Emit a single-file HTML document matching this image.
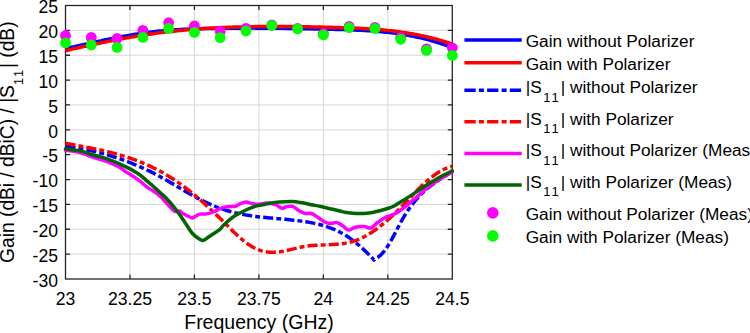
<!DOCTYPE html>
<html><head><meta charset="utf-8"><style>
html,body{margin:0;padding:0;background:#fff;}
body{width:750px;height:333px;overflow:hidden;font-family:"Liberation Sans",sans-serif;}
svg{display:block;}
</style></head><body>
<svg width="750" height="333" viewBox="0 0 750 333">
<rect width="750" height="333" fill="#fff"/>
<path d="M129.97,5.50 V279.00 M194.43,5.50 V279.00 M258.90,5.50 V279.00 M323.37,5.50 V279.00 M387.83,5.50 V279.00 M65.50,254.14 H452.30 M65.50,229.27 H452.30 M65.50,204.41 H452.30 M65.50,179.55 H452.30 M65.50,154.68 H452.30 M65.50,129.82 H452.30 M65.50,104.95 H452.30 M65.50,80.09 H452.30 M65.50,55.23 H452.30 M65.50,30.36 H452.30" stroke="#d6d6d6" stroke-width="1" fill="none"/>
<rect x="65.50" y="5.50" width="386.80" height="273.50" fill="none" stroke="#262626" stroke-width="1.3"/>
<path d="M129.97,279.00 v-4.50 M129.97,5.50 v4.50 M194.43,279.00 v-4.50 M194.43,5.50 v4.50 M258.90,279.00 v-4.50 M258.90,5.50 v4.50 M323.37,279.00 v-4.50 M323.37,5.50 v4.50 M387.83,279.00 v-4.50 M387.83,5.50 v4.50 M65.50,254.14 h4.50 M452.30,254.14 h-4.50 M65.50,229.27 h4.50 M452.30,229.27 h-4.50 M65.50,204.41 h4.50 M452.30,204.41 h-4.50 M65.50,179.55 h4.50 M452.30,179.55 h-4.50 M65.50,154.68 h4.50 M452.30,154.68 h-4.50 M65.50,129.82 h4.50 M452.30,129.82 h-4.50 M65.50,104.95 h4.50 M452.30,104.95 h-4.50 M65.50,80.09 h4.50 M452.30,80.09 h-4.50 M65.50,55.23 h4.50 M452.30,55.23 h-4.50 M65.50,30.36 h4.50 M452.30,30.36 h-4.50" stroke="#262626" stroke-width="1.3" fill="none"/>
<defs><clipPath id="c"><rect x="65.00" y="5.00" width="387.80" height="274.50"/></clipPath></defs>
<g fill="none" stroke-width="3.50" stroke-linejoin="round">
<path d="M65.50,48.70 L67.50,48.24 L69.50,47.79 L71.50,47.33 L73.50,46.88 L75.50,46.42 L77.50,45.97 L79.50,45.51 L81.50,45.06 L83.50,44.61 L85.50,44.16 L87.50,43.72 L89.50,43.27 L91.50,42.83 L93.50,42.39 L95.50,41.96 L97.50,41.52 L99.50,41.09 L101.50,40.67 L103.50,40.25 L105.50,39.83 L107.50,39.42 L109.50,39.01 L111.50,38.61 L113.50,38.21 L115.50,37.82 L117.50,37.43 L119.50,37.05 L121.50,36.68 L123.50,36.31 L125.50,35.95 L127.50,35.60 L129.50,35.25 L131.50,34.91 L133.50,34.58 L135.50,34.26 L137.50,33.94 L139.50,33.64 L141.50,33.34 L143.50,33.05 L145.50,32.78 L147.50,32.51 L149.50,32.25 L151.50,32.00 L153.50,31.76 L155.50,31.53 L157.50,31.31 L159.50,31.11 L161.50,30.91 L163.50,30.72 L165.50,30.54 L167.50,30.37 L169.50,30.21 L171.50,30.06 L173.50,29.92 L175.50,29.79 L177.50,29.66 L179.50,29.54 L181.50,29.43 L183.50,29.32 L185.50,29.23 L187.50,29.13 L189.50,29.05 L191.50,28.97 L193.50,28.89 L195.50,28.83 L197.50,28.76 L199.50,28.70 L201.50,28.65 L203.50,28.60 L205.50,28.55 L207.50,28.50 L209.50,28.46 L211.50,28.43 L213.50,28.39 L215.50,28.36 L217.50,28.33 L219.50,28.30 L221.50,28.27 L223.50,28.25 L225.50,28.23 L227.50,28.21 L229.50,28.19 L231.50,28.17 L233.50,28.16 L235.50,28.15 L237.50,28.14 L239.50,28.13 L241.50,28.12 L243.50,28.12 L245.50,28.11 L247.50,28.11 L249.50,28.11 L251.50,28.12 L253.50,28.12 L255.50,28.13 L257.50,28.13 L259.50,28.14 L261.50,28.15 L263.50,28.16 L265.50,28.18 L267.50,28.19 L269.50,28.21 L271.50,28.23 L273.50,28.24 L275.50,28.26 L277.50,28.29 L279.50,28.31 L281.50,28.33 L283.50,28.36 L285.50,28.39 L287.50,28.41 L289.50,28.44 L291.50,28.47 L293.50,28.51 L295.50,28.54 L297.50,28.57 L299.50,28.61 L301.50,28.64 L303.50,28.68 L305.50,28.72 L307.50,28.76 L309.50,28.80 L311.50,28.84 L313.50,28.88 L315.50,28.92 L317.50,28.96 L319.50,29.01 L321.50,29.05 L323.50,29.10 L325.50,29.14 L327.50,29.19 L329.50,29.24 L331.50,29.28 L333.50,29.33 L335.50,29.38 L337.50,29.43 L339.50,29.49 L341.50,29.54 L343.50,29.60 L345.50,29.67 L347.50,29.73 L349.50,29.80 L351.50,29.87 L353.50,29.95 L355.50,30.04 L357.50,30.13 L359.50,30.22 L361.50,30.32 L363.50,30.43 L365.50,30.54 L367.50,30.67 L369.50,30.80 L371.50,30.93 L373.50,31.08 L375.50,31.23 L377.50,31.40 L379.50,31.57 L381.50,31.76 L383.50,31.95 L385.50,32.15 L387.50,32.37 L389.50,32.60 L391.50,32.84 L393.50,33.09 L395.50,33.35 L397.50,33.63 L399.50,33.92 L401.50,34.22 L403.50,34.54 L405.50,34.88 L407.50,35.22 L409.50,35.59 L411.50,35.97 L413.50,36.36 L415.50,36.77 L417.50,37.20 L419.50,37.64 L421.50,38.11 L423.50,38.59 L425.50,39.09 L427.50,39.60 L429.50,40.14 L431.50,40.70 L433.50,41.27 L435.50,41.87 L437.50,42.48 L439.50,43.12 L441.50,43.78 L443.50,44.46 L445.50,45.16 L447.50,45.89 L449.50,46.64 L451.50,47.41 L452.30,47.72" stroke="#0000ff"/>
<path d="M65.50,50.77 L67.50,50.30 L69.50,49.83 L71.50,49.37 L73.50,48.90 L75.50,48.44 L77.50,47.99 L79.50,47.53 L81.50,47.08 L83.50,46.64 L85.50,46.19 L87.50,45.75 L89.50,45.31 L91.50,44.88 L93.50,44.45 L95.50,44.02 L97.50,43.60 L99.50,43.18 L101.50,42.76 L103.50,42.35 L105.50,41.95 L107.50,41.54 L109.50,41.14 L111.50,40.75 L113.50,40.36 L115.50,39.98 L117.50,39.60 L119.50,39.22 L121.50,38.85 L123.50,38.48 L125.50,38.12 L127.50,37.77 L129.50,37.42 L131.50,37.07 L133.50,36.74 L135.50,36.40 L137.50,36.07 L139.50,35.75 L141.50,35.43 L143.50,35.12 L145.50,34.82 L147.50,34.52 L149.50,34.23 L151.50,33.94 L153.50,33.66 L155.50,33.39 L157.50,33.12 L159.50,32.86 L161.50,32.60 L163.50,32.36 L165.50,32.11 L167.50,31.88 L169.50,31.65 L171.50,31.43 L173.50,31.21 L175.50,31.00 L177.50,30.79 L179.50,30.59 L181.50,30.40 L183.50,30.21 L185.50,30.02 L187.50,29.85 L189.50,29.67 L191.50,29.51 L193.50,29.34 L195.50,29.19 L197.50,29.04 L199.50,28.89 L201.50,28.75 L203.50,28.61 L205.50,28.48 L207.50,28.35 L209.50,28.23 L211.50,28.12 L213.50,28.00 L215.50,27.90 L217.50,27.79 L219.50,27.69 L221.50,27.60 L223.50,27.51 L225.50,27.42 L227.50,27.34 L229.50,27.27 L231.50,27.19 L233.50,27.12 L235.50,27.06 L237.50,27.00 L239.50,26.94 L241.50,26.88 L243.50,26.83 L245.50,26.79 L247.50,26.75 L249.50,26.71 L251.50,26.67 L253.50,26.64 L255.50,26.61 L257.50,26.58 L259.50,26.56 L261.50,26.54 L263.50,26.52 L265.50,26.51 L267.50,26.50 L269.50,26.49 L271.50,26.49 L273.50,26.49 L275.50,26.49 L277.50,26.49 L279.50,26.50 L281.50,26.50 L283.50,26.52 L285.50,26.53 L287.50,26.54 L289.50,26.56 L291.50,26.58 L293.50,26.60 L295.50,26.63 L297.50,26.66 L299.50,26.68 L301.50,26.71 L303.50,26.75 L305.50,26.78 L307.50,26.82 L309.50,26.85 L311.50,26.89 L313.50,26.93 L315.50,26.97 L317.50,27.02 L319.50,27.06 L321.50,27.11 L323.50,27.15 L325.50,27.20 L327.50,27.25 L329.50,27.30 L331.50,27.35 L333.50,27.40 L335.50,27.46 L337.50,27.51 L339.50,27.57 L341.50,27.63 L343.50,27.69 L345.50,27.76 L347.50,27.83 L349.50,27.90 L351.50,27.98 L353.50,28.06 L355.50,28.15 L357.50,28.24 L359.50,28.33 L361.50,28.43 L363.50,28.54 L365.50,28.66 L367.50,28.78 L369.50,28.90 L371.50,29.04 L373.50,29.18 L375.50,29.33 L377.50,29.49 L379.50,29.65 L381.50,29.83 L383.50,30.01 L385.50,30.20 L387.50,30.41 L389.50,30.62 L391.50,30.84 L393.50,31.07 L395.50,31.32 L397.50,31.57 L399.50,31.84 L401.50,32.12 L403.50,32.41 L405.50,32.72 L407.50,33.03 L409.50,33.36 L411.50,33.70 L413.50,34.06 L415.50,34.43 L417.50,34.82 L419.50,35.22 L421.50,35.63 L423.50,36.06 L425.50,36.51 L427.50,36.97 L429.50,37.45 L431.50,37.94 L433.50,38.45 L435.50,38.98 L437.50,39.53 L439.50,40.09 L441.50,40.67 L443.50,41.27 L445.50,41.89 L447.50,42.53 L449.50,43.19 L451.50,43.86 L452.30,44.14" stroke="#ff0000"/>
<path d="M65.50,146.21 L67.50,146.48 L69.50,146.76 L71.50,147.05 L73.50,147.36 L75.50,147.68 L77.50,148.02 L79.50,148.37 L81.50,148.74 L83.50,149.12 L85.50,149.52 L87.50,149.93 L89.50,150.36 L91.50,150.80 L93.50,151.26 L95.50,151.73 L97.50,152.23 L99.50,152.73 L101.50,153.26 L103.50,153.80 L105.50,154.36 L107.50,154.93 L109.50,155.52 L111.50,156.13 L113.50,156.76 L115.50,157.40 L117.50,158.06 L119.50,158.74 L121.50,159.44 L123.50,160.15 L125.50,160.89 L127.50,161.64 L129.50,162.41 L131.50,163.20 L133.50,164.01 L135.50,164.84 L137.50,165.69 L139.50,166.55 L141.50,167.44 L143.50,168.35 L145.50,169.27 L147.50,170.22 L149.50,171.18 L151.50,172.17 L153.50,173.18 L155.50,174.21 L157.50,175.25 L159.50,176.32 L161.50,177.42 L163.50,178.53 L165.50,179.66 L167.50,180.80 L169.50,181.96 L171.50,183.13 L173.50,184.31 L175.50,185.50 L177.50,186.68 L179.50,187.87 L181.50,189.05 L183.50,190.23 L185.50,191.40 L187.50,192.56 L189.50,193.70 L191.50,194.83 L193.50,195.94 L195.50,197.03 L197.50,198.10 L199.50,199.14 L201.50,200.15 L203.50,201.14 L205.50,202.11 L207.50,203.04 L209.50,203.95 L211.50,204.83 L213.50,205.68 L215.50,206.50 L217.50,207.28 L219.50,208.04 L221.50,208.76 L223.50,209.44 L225.50,210.10 L227.50,210.71 L229.50,211.30 L231.50,211.85 L233.50,212.36 L235.50,212.85 L237.50,213.31 L239.50,213.75 L241.50,214.16 L243.50,214.54 L245.50,214.90 L247.50,215.24 L249.50,215.56 L251.50,215.86 L253.50,216.14 L255.50,216.40 L257.50,216.65 L259.50,216.89 L261.50,217.12 L263.50,217.33 L265.50,217.54 L267.50,217.73 L269.50,217.92 L271.50,218.11 L273.50,218.29 L275.50,218.46 L277.50,218.64 L279.50,218.82 L281.50,218.99 L283.50,219.17 L285.50,219.36 L287.50,219.55 L289.50,219.74 L291.50,219.95 L293.50,220.16 L295.50,220.38 L297.50,220.62 L299.50,220.87 L301.50,221.14 L303.50,221.42 L305.50,221.72 L307.50,222.04 L309.50,222.38 L311.50,222.74 L313.50,223.13 L315.50,223.55 L317.50,224.01 L319.50,224.50 L321.50,225.02 L323.50,225.59 L325.50,226.20 L327.50,226.86 L329.50,227.57 L331.50,228.33 L333.50,229.14 L335.50,230.01 L337.50,230.94 L339.50,231.93 L341.50,232.98 L343.50,234.11 L345.50,235.30 L347.50,236.57 L349.50,237.91 L351.50,239.33 L353.50,240.82 L355.50,242.39 L357.50,244.03 L359.50,245.73 L361.50,247.51 L363.50,249.34 L365.50,251.24 L367.50,253.20 L369.50,255.22 L371.50,257.29 L373.50,259.42 L374.00,259.96 L376.00,258.25 L378.00,257.20 L380.00,255.69 L382.00,253.74 L384.00,251.39 L386.00,248.69 L388.00,245.68 L390.00,242.40 L392.00,238.88 L394.00,235.17 L396.00,231.36 L398.00,227.52 L400.00,223.73 L402.00,220.09 L404.00,216.65 L406.00,213.40 L408.00,210.33 L410.00,207.45 L412.00,204.73 L414.00,202.17 L416.00,199.76 L418.00,197.49 L420.00,195.36 L422.00,193.34 L424.00,191.44 L426.00,189.65 L428.00,187.95 L430.00,186.33 L432.00,184.80 L434.00,183.33 L436.00,181.92 L438.00,180.56 L440.00,179.24 L442.00,177.95 L444.00,176.68 L446.00,175.43 L448.00,174.18 L450.00,172.93 L452.00,171.66 L452.30,171.47" stroke="#0000ff" stroke-dasharray="10.1 3.1 4.9 3.1"/>
<path d="M65.50,143.37 L67.50,143.73 L69.50,144.09 L71.50,144.45 L73.50,144.81 L75.50,145.17 L77.50,145.53 L79.50,145.90 L81.50,146.27 L83.50,146.65 L85.50,147.03 L87.50,147.41 L89.50,147.80 L91.50,148.20 L93.50,148.61 L95.50,149.02 L97.50,149.44 L99.50,149.88 L101.50,150.32 L103.50,150.78 L105.50,151.24 L107.50,151.72 L109.50,152.22 L111.50,152.72 L113.50,153.24 L115.50,153.78 L117.50,154.33 L119.50,154.90 L121.50,155.49 L123.50,156.10 L125.50,156.72 L127.50,157.37 L129.50,158.03 L131.50,158.72 L133.50,159.42 L135.50,160.15 L137.50,160.91 L139.50,161.68 L141.50,162.49 L143.50,163.31 L145.50,164.17 L147.50,165.05 L149.50,165.95 L151.50,166.89 L153.50,167.85 L155.50,168.84 L157.50,169.87 L159.50,170.92 L161.50,172.01 L163.50,173.13 L165.50,174.28 L167.50,175.46 L169.50,176.68 L171.50,177.94 L173.50,179.23 L175.50,180.55 L177.50,181.92 L179.50,183.32 L181.50,184.76 L183.50,186.24 L185.50,187.75 L187.50,189.30 L189.50,190.88 L191.50,192.50 L193.50,194.14 L195.50,195.82 L197.50,197.52 L199.50,199.25 L201.50,201.01 L203.50,202.79 L205.50,204.60 L207.50,206.43 L209.50,208.28 L211.50,210.16 L213.50,212.05 L215.50,213.96 L217.50,215.88 L219.50,217.82 L221.50,219.78 L223.50,221.75 L225.50,223.73 L227.50,225.72 L229.50,227.71 L231.50,229.68 L233.50,231.63 L235.50,233.55 L237.50,235.42 L239.50,237.23 L241.50,238.98 L243.50,240.65 L245.50,242.24 L247.50,243.73 L249.50,245.10 L251.50,246.36 L253.50,247.50 L255.50,248.51 L257.50,249.41 L259.50,250.18 L261.50,250.84 L263.50,251.37 L265.50,251.79 L267.50,252.09 L269.50,252.28 L271.50,252.36 L273.50,252.35 L275.50,252.25 L277.50,252.08 L279.50,251.83 L281.50,251.52 L283.50,251.16 L285.50,250.76 L287.50,250.32 L289.50,249.86 L291.50,249.38 L293.50,248.90 L295.50,248.41 L297.50,247.94 L299.50,247.48 L301.50,247.05 L303.50,246.66 L305.50,246.32 L307.50,246.02 L309.50,245.77 L311.50,245.57 L313.50,245.40 L315.50,245.26 L317.50,245.14 L319.50,245.05 L321.50,244.97 L323.50,244.89 L325.50,244.82 L327.50,244.75 L329.50,244.68 L331.50,244.59 L333.50,244.48 L335.50,244.35 L337.50,244.19 L339.50,243.99 L341.50,243.76 L343.50,243.48 L345.50,243.15 L347.50,242.76 L349.50,242.31 L351.50,241.80 L353.50,241.22 L355.50,240.55 L357.50,239.81 L359.50,238.98 L361.50,238.08 L363.50,237.11 L365.50,236.06 L367.50,234.94 L369.50,233.74 L371.50,232.48 L373.50,231.16 L375.50,229.77 L377.50,228.31 L379.50,226.80 L381.50,225.23 L383.50,223.60 L385.50,221.91 L387.50,220.17 L389.50,218.38 L391.50,216.54 L393.50,214.65 L395.50,212.72 L397.50,210.74 L399.50,208.72 L401.50,206.67 L403.50,204.60 L405.50,202.51 L407.50,200.41 L409.50,198.31 L411.50,196.21 L413.50,194.13 L415.50,192.07 L417.50,190.04 L419.50,188.05 L421.50,186.10 L423.50,184.20 L425.50,182.37 L427.50,180.60 L429.50,178.90 L431.50,177.28 L433.50,175.75 L435.50,174.30 L437.50,172.95 L439.50,171.70 L441.50,170.55 L443.50,169.52 L445.50,168.59 L447.50,167.79 L449.50,167.11 L451.50,166.56 L452.30,166.38" stroke="#ff0000" stroke-dasharray="10.1 3.1 4.9 3.1"/>
<path d="M65.50,150.20 C67.92,150.60 75.08,151.32 80.00,152.60 C84.92,153.88 90.50,156.42 95.00,157.90 C99.50,159.38 103.00,160.00 107.00,161.50 C111.00,163.00 116.00,165.28 119.00,166.90 C122.00,168.52 123.09,169.93 125.00,171.20 C126.91,172.47 128.45,173.22 130.45,174.50 C132.45,175.78 135.41,177.82 137.00,178.90 C138.59,179.98 138.33,179.62 140.00,181.00 C141.67,182.38 144.83,185.57 147.00,187.20 C149.17,188.83 151.00,189.45 153.00,190.80 C155.00,192.15 157.00,193.55 159.00,195.30 C161.00,197.05 163.17,199.38 165.00,201.30 C166.83,203.22 168.38,205.13 170.00,206.80 C171.62,208.47 173.15,210.60 174.70,211.30 C176.25,212.00 177.75,210.53 179.30,211.00 C180.85,211.47 182.43,213.18 184.00,214.10 C185.57,215.02 187.30,215.87 188.70,216.50 C190.10,217.13 191.17,217.98 192.40,217.90 C193.63,217.82 194.85,216.63 196.10,216.00 C197.35,215.37 198.33,214.42 199.90,214.10 C201.47,213.78 203.80,214.25 205.50,214.10 C207.20,213.95 208.55,213.67 210.10,213.20 C211.65,212.73 213.23,212.00 214.80,211.30 C216.37,210.60 217.93,209.70 219.50,209.00 C221.07,208.30 222.48,207.48 224.20,207.10 C225.92,206.72 227.93,206.85 229.80,206.70 C231.67,206.55 233.70,206.67 235.40,206.20 C237.10,205.73 238.23,204.60 240.00,203.90 C241.77,203.20 243.95,202.03 246.00,202.00 C248.05,201.97 250.20,203.32 252.30,203.70 C254.40,204.08 256.15,204.42 258.60,204.30 C261.05,204.18 264.18,202.93 267.00,203.00 C269.82,203.07 273.03,203.82 275.50,204.70 C277.97,205.58 280.00,207.95 281.80,208.30 C283.60,208.65 284.50,207.12 286.30,206.80 C288.10,206.48 290.48,205.77 292.60,206.40 C294.72,207.03 296.90,209.42 299.00,210.60 C301.10,211.78 303.12,213.02 305.20,213.50 C307.28,213.98 309.40,212.87 311.50,213.50 C313.60,214.13 315.72,215.97 317.80,217.30 C319.88,218.63 322.00,220.48 324.00,221.50 C326.00,222.52 327.63,223.22 329.80,223.40 C331.97,223.58 334.80,222.17 337.00,222.60 C339.20,223.03 341.08,224.77 343.00,226.00 C344.92,227.23 346.45,229.80 348.50,230.00 C350.55,230.20 352.67,227.78 355.30,227.20 C357.93,226.62 361.68,226.37 364.30,226.50 C366.92,226.63 368.78,228.67 371.00,228.00 C373.22,227.33 375.10,224.33 377.60,222.50 C380.10,220.67 383.10,218.45 386.00,217.00 C388.90,215.55 391.75,215.57 395.00,213.80 C398.25,212.03 402.00,209.10 405.50,206.40 C409.00,203.70 412.50,200.60 416.00,197.60 C419.50,194.60 423.00,191.17 426.50,188.40 C430.00,185.63 432.70,183.77 437.00,181.00 C441.30,178.23 449.75,173.33 452.30,171.80" stroke="#ff00ff" stroke-linecap="round"/>
<path d="M65.50,148.80 C67.92,149.15 75.08,149.78 80.00,150.90 C84.92,152.02 90.50,154.18 95.00,155.50 C99.50,156.82 103.00,157.45 107.00,158.80 C111.00,160.15 115.17,161.92 119.00,163.60 C122.83,165.28 126.50,167.00 130.00,168.90 C133.50,170.80 137.20,173.02 140.00,175.00 C142.80,176.98 144.55,178.88 146.80,180.80 C149.05,182.72 151.25,184.52 153.50,186.50 C155.75,188.48 158.05,190.62 160.30,192.70 C162.55,194.78 164.75,196.65 167.00,199.00 C169.25,201.35 171.77,204.32 173.80,206.80 C175.83,209.28 177.33,211.28 179.20,213.90 C181.07,216.52 182.78,219.23 185.00,222.50 C187.22,225.77 190.00,230.67 192.50,233.50 C195.00,236.33 198.17,238.37 200.00,239.50 C201.83,240.63 202.00,240.77 203.50,240.30 C205.00,239.83 207.08,237.95 209.00,236.70 C210.92,235.45 213.25,233.95 215.00,232.80 C216.75,231.65 218.00,231.15 219.50,229.80 C221.00,228.45 222.03,226.62 224.00,224.70 C225.97,222.78 229.03,220.03 231.30,218.30 C233.57,216.57 235.15,215.68 237.60,214.30 C240.05,212.92 243.20,211.28 246.00,210.00 C248.80,208.72 251.60,207.47 254.40,206.60 C257.20,205.73 260.00,205.42 262.80,204.80 C265.60,204.18 268.38,203.37 271.20,202.90 C274.02,202.43 276.13,202.22 279.70,202.00 C283.27,201.78 289.05,201.50 292.60,201.60 C296.15,201.70 297.85,202.08 301.00,202.60 C304.15,203.12 308.00,204.00 311.50,204.70 C315.00,205.40 318.48,206.03 322.00,206.80 C325.52,207.57 329.60,208.60 332.60,209.30 C335.60,210.00 337.72,210.47 340.00,211.00 C342.28,211.53 343.38,212.07 346.30,212.50 C349.22,212.93 353.75,213.52 357.50,213.60 C361.25,213.68 365.05,213.48 368.80,213.00 C372.55,212.52 376.63,211.53 380.00,210.70 C383.37,209.87 386.57,208.83 389.00,208.00 C391.43,207.17 392.07,207.08 394.60,205.70 C397.13,204.32 401.00,201.72 404.20,199.70 C407.40,197.68 410.58,195.72 413.80,193.60 C417.02,191.48 420.30,189.07 423.50,187.00 C426.70,184.93 429.80,183.10 433.00,181.20 C436.20,179.30 439.48,177.33 442.70,175.60 C445.92,173.87 450.70,171.60 452.30,170.80" stroke="#006400" stroke-linecap="round"/>
</g>
<circle cx="65.50" cy="35.50" r="5.40" fill="#ff00ff"/>
<circle cx="91.29" cy="37.40" r="5.40" fill="#ff00ff"/>
<circle cx="117.07" cy="38.50" r="5.40" fill="#ff00ff"/>
<circle cx="142.86" cy="30.30" r="5.40" fill="#ff00ff"/>
<circle cx="168.65" cy="22.70" r="5.40" fill="#ff00ff"/>
<circle cx="194.43" cy="25.90" r="5.40" fill="#ff00ff"/>
<circle cx="220.22" cy="31.50" r="5.40" fill="#ff00ff"/>
<circle cx="246.01" cy="28.40" r="5.40" fill="#ff00ff"/>
<circle cx="271.79" cy="25.00" r="5.40" fill="#ff00ff"/>
<circle cx="297.58" cy="28.50" r="5.40" fill="#ff00ff"/>
<circle cx="323.37" cy="33.60" r="5.40" fill="#ff00ff"/>
<circle cx="349.15" cy="26.40" r="5.40" fill="#ff00ff"/>
<circle cx="374.94" cy="27.40" r="5.40" fill="#ff00ff"/>
<circle cx="400.73" cy="37.60" r="5.40" fill="#ff00ff"/>
<circle cx="426.51" cy="48.80" r="5.40" fill="#ff00ff"/>
<circle cx="452.30" cy="47.80" r="5.40" fill="#ff00ff"/>
<circle cx="65.50" cy="42.90" r="5.40" fill="#00ff00"/>
<circle cx="91.29" cy="45.00" r="5.40" fill="#00ff00"/>
<circle cx="117.07" cy="47.40" r="5.40" fill="#00ff00"/>
<circle cx="142.86" cy="37.40" r="5.40" fill="#00ff00"/>
<circle cx="168.65" cy="28.50" r="5.40" fill="#00ff00"/>
<circle cx="194.43" cy="32.40" r="5.40" fill="#00ff00"/>
<circle cx="220.22" cy="37.60" r="5.40" fill="#00ff00"/>
<circle cx="246.01" cy="31.00" r="5.40" fill="#00ff00"/>
<circle cx="271.79" cy="25.40" r="5.40" fill="#00ff00"/>
<circle cx="297.58" cy="28.90" r="5.40" fill="#00ff00"/>
<circle cx="323.37" cy="34.90" r="5.40" fill="#00ff00"/>
<circle cx="349.15" cy="27.60" r="5.40" fill="#00ff00"/>
<circle cx="374.94" cy="28.50" r="5.40" fill="#00ff00"/>
<circle cx="400.73" cy="39.30" r="5.40" fill="#00ff00"/>
<circle cx="426.51" cy="50.40" r="5.40" fill="#00ff00"/>
<circle cx="452.30" cy="55.40" r="5.40" fill="#00ff00"/>
<text x="58" y="286.80" font-family="Liberation Sans, sans-serif" font-size="17.6" text-anchor="end" fill="#000">-30</text>
<text x="58" y="261.94" font-family="Liberation Sans, sans-serif" font-size="17.6" text-anchor="end" fill="#000">-25</text>
<text x="58" y="237.07" font-family="Liberation Sans, sans-serif" font-size="17.6" text-anchor="end" fill="#000">-20</text>
<text x="58" y="212.21" font-family="Liberation Sans, sans-serif" font-size="17.6" text-anchor="end" fill="#000">-15</text>
<text x="58" y="187.35" font-family="Liberation Sans, sans-serif" font-size="17.6" text-anchor="end" fill="#000">-10</text>
<text x="58" y="162.48" font-family="Liberation Sans, sans-serif" font-size="17.6" text-anchor="end" fill="#000">-5</text>
<text x="58" y="137.62" font-family="Liberation Sans, sans-serif" font-size="17.6" text-anchor="end" fill="#000">0</text>
<text x="58" y="112.75" font-family="Liberation Sans, sans-serif" font-size="17.6" text-anchor="end" fill="#000">5</text>
<text x="58" y="87.89" font-family="Liberation Sans, sans-serif" font-size="17.6" text-anchor="end" fill="#000">10</text>
<text x="58" y="63.03" font-family="Liberation Sans, sans-serif" font-size="17.6" text-anchor="end" fill="#000">15</text>
<text x="58" y="38.16" font-family="Liberation Sans, sans-serif" font-size="17.6" text-anchor="end" fill="#000">20</text>
<text x="58" y="13.30" font-family="Liberation Sans, sans-serif" font-size="17.6" text-anchor="end" fill="#000">25</text>
<text x="65.50" y="304.5" font-family="Liberation Sans, sans-serif" font-size="17.6" text-anchor="middle" fill="#000">23</text>
<text x="129.97" y="304.5" font-family="Liberation Sans, sans-serif" font-size="17.6" text-anchor="middle" fill="#000">23.25</text>
<text x="194.43" y="304.5" font-family="Liberation Sans, sans-serif" font-size="17.6" text-anchor="middle" fill="#000">23.5</text>
<text x="258.90" y="304.5" font-family="Liberation Sans, sans-serif" font-size="17.6" text-anchor="middle" fill="#000">23.75</text>
<text x="323.37" y="304.5" font-family="Liberation Sans, sans-serif" font-size="17.6" text-anchor="middle" fill="#000">24</text>
<text x="387.83" y="304.5" font-family="Liberation Sans, sans-serif" font-size="17.6" text-anchor="middle" fill="#000">24.25</text>
<text x="452.30" y="304.5" font-family="Liberation Sans, sans-serif" font-size="17.6" text-anchor="middle" fill="#000">24.5</text>
<text x="259" y="328.5" font-family="Liberation Sans, sans-serif" font-size="19.5" text-anchor="middle" fill="#000">Frequency (GHz)</text>
<text transform="translate(14.0,262.9) rotate(-90) scale(0.985,1)" font-family="Liberation Sans, sans-serif" font-size="19.5" fill="#000">Gain (dBi / dBiC) / |S<tspan font-size="13" dy="8.9" letter-spacing="1.9">11</tspan><tspan dy="-8.9">| (dB)</tspan></text>
<path d="M464.40,39.90 H521.70" stroke="#0000ff" stroke-width="3.50" fill="none"/>
<text x="525.70" y="46.70" font-family="Liberation Sans, sans-serif" font-size="17.25" fill="#000">Gain without Polarizer</text>
<path d="M464.40,62.80 H521.70" stroke="#ff0000" stroke-width="3.50" fill="none"/>
<text x="525.70" y="69.60" font-family="Liberation Sans, sans-serif" font-size="17.25" fill="#000">Gain with Polarizer</text>
<path d="M464.40,90.30 H521.70" stroke="#0000ff" stroke-width="3.50" stroke-dasharray="11.3 3.2 5.0 3.2" fill="none"/>
<text x="525.70" y="93.20" font-family="Liberation Sans, sans-serif" font-size="17.25" fill="#000">|S<tspan font-size="13" dx="1.5" dy="8.6" letter-spacing="2.0">11</tspan><tspan dy="-8.6">| without Polarizer</tspan></text>
<path d="M464.40,121.80 H521.70" stroke="#ff0000" stroke-width="3.50" stroke-dasharray="11.3 3.2 5.0 3.2" fill="none"/>
<text x="525.70" y="124.70" font-family="Liberation Sans, sans-serif" font-size="17.25" fill="#000">|S<tspan font-size="13" dx="1.5" dy="8.6" letter-spacing="2.0">11</tspan><tspan dy="-8.6">| with Polarizer</tspan></text>
<path d="M464.40,153.40 H521.70" stroke="#ff00ff" stroke-width="3.50" fill="none"/>
<text x="525.70" y="156.30" font-family="Liberation Sans, sans-serif" font-size="17.25" fill="#000">|S<tspan font-size="13" dx="1.5" dy="8.6" letter-spacing="2.0">11</tspan><tspan dy="-8.6">| without Polarizer (Meas)</tspan></text>
<path d="M464.40,184.90 H521.70" stroke="#006400" stroke-width="3.50" fill="none"/>
<text x="525.70" y="187.80" font-family="Liberation Sans, sans-serif" font-size="17.25" fill="#000">|S<tspan font-size="13" dx="1.5" dy="8.6" letter-spacing="2.0">11</tspan><tspan dy="-8.6">| with Polarizer (Meas)</tspan></text>
<circle cx="492.8" cy="212.90" r="5.80" fill="#ff00ff"/>
<text x="525.70" y="219.70" font-family="Liberation Sans, sans-serif" font-size="17.25" fill="#000">Gain without Polarizer (Meas)</text>
<circle cx="492.8" cy="235.90" r="5.80" fill="#00ff00"/>
<text x="525.70" y="242.70" font-family="Liberation Sans, sans-serif" font-size="17.25" fill="#000">Gain with Polarizer (Meas)</text>
</svg>
</body></html>
